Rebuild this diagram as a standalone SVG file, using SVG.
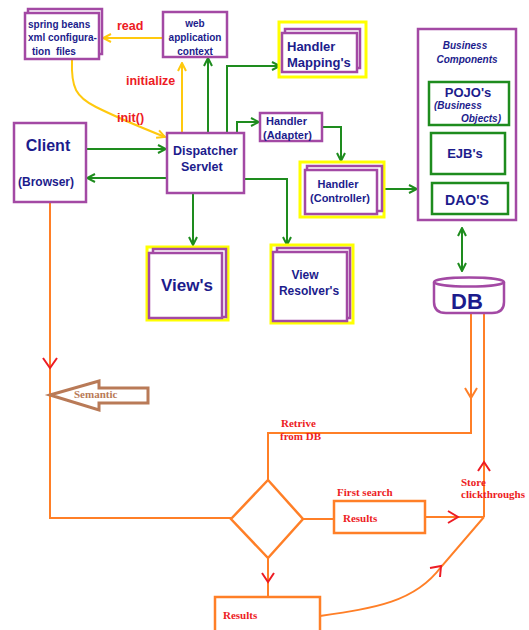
<svg xmlns="http://www.w3.org/2000/svg" width="529" height="630" viewBox="0 0 529 630">
<style>
.p{fill:#fff;stroke:#a349a4;stroke-width:2.5}
.pn{fill:none;stroke:#a349a4;stroke-width:2.5}
.y{fill:#fff;stroke:#ffff00;stroke-width:3}
.gb{fill:#fff;stroke:#1e8c1e;stroke-width:2.5}
.g{fill:none;stroke:#1e8c1e;stroke-width:2}
.yl{fill:none;stroke:#ffc90e;stroke-width:2}
.o{fill:none;stroke:#ff7f27;stroke-width:2}
.ob{fill:#fff;stroke:#ff7f27;stroke-width:2.5}
.r{fill:none;stroke:#ed1c24;stroke-width:2}
.t{font-family:"Liberation Sans",Arial,sans-serif;font-weight:bold;fill:#1c1c8c}
.rt{font-family:"Liberation Sans",Arial,sans-serif;font-weight:bold;fill:#ed1c24}
.st{font-family:"Liberation Serif","Times New Roman",serif;font-weight:bold;fill:#ed1c24;font-size:11px}
</style>
<defs>
<marker id="ag" viewBox="0 0 10 10" refX="9" refY="5" markerWidth="10" markerHeight="10" markerUnits="userSpaceOnUse" orient="auto-start-reverse"><path d="M1,1 L9,5 L1,9" fill="none" stroke="#1e8c1e" stroke-width="2"/></marker>
<marker id="ay" viewBox="0 0 10 10" refX="9" refY="5" markerWidth="10" markerHeight="10" markerUnits="userSpaceOnUse" orient="auto"><path d="M1,1 L9,5 L1,9" fill="none" stroke="#ffc90e" stroke-width="2"/></marker>
</defs>

<g id="connectors">
<path class="yl" d="M163,38 L103,38" marker-end="url(#ay)"/>
<path class="yl" d="M182,133 L182,63" marker-end="url(#ay)"/>
<path class="yl" d="M72,60 C71,88 76,97 96,107 S140,127 165,137" marker-end="url(#ay)"/>
<path class="g" d="M208,133 L208,58" marker-end="url(#ag)"/>
<path class="g" d="M227,133 L227,66 L280,66" marker-end="url(#ag)"/>
<path class="g" d="M237,133 L237,122 L259,122" marker-end="url(#ag)"/>
<path class="g" d="M322,127 L341,127 L341,161" marker-end="url(#ag)"/>
<path class="g" d="M86,149 L166,149" marker-end="url(#ag)"/>
<path class="g" d="M167,178 L87,178" marker-end="url(#ag)"/>
<path class="g" d="M193,193 L193,245" marker-end="url(#ag)"/>
<path class="g" d="M244,179 L287,179 L287,245" marker-end="url(#ag)"/>
<path class="g" d="M384,189 L417,189" marker-end="url(#ag)"/>
<path class="g" d="M462,228 L462,271" marker-start="url(#ag)" marker-end="url(#ag)"/>
<path class="o" d="M50,202 L50,518 L231,518"/>
<path class="o" d="M471,313 L471,433 L268,433 L268,480"/>
<path class="o" d="M484,313 L484,517"/>
<path class="o" d="M303,519 L334,519"/>
<path class="o" d="M425,517 L484,517"/>
<path class="o" d="M268,558 L268,597"/>
<path class="o" d="M320,616 C375,608 415,602 441,567 L484,517"/>
<path class="o" d="M465,388 L471,398 L477,388"/>
<path class="r" d="M43,358 L50,368 L57,358"/>
<path class="r" d="M478,471 L484,462 L490,471"/>
<path class="r" d="M448,511 L458,517 L448,523"/>
<path class="r" d="M262,573 L268,582 L274,573"/>
<path class="r" d="M430,568 L441,566 L440,577"/>
</g>

<g id="spring-beans">
<rect class="p" x="28" y="9" width="74" height="45"/>
<rect class="p" x="25" y="13" width="74" height="46"/>
<text class="t" font-size="10" x="28" y="28">spring beans</text>
<text class="t" font-size="10" x="28" y="41">xml configura-</text>
<text class="t" font-size="10" x="32" y="55" xml:space="preserve">tion  files</text>
</g>
<text class="rt" font-size="12.5" x="117" y="30">read</text>
<text class="rt" font-size="12.5" x="126" y="85">initialize</text>
<text class="rt" font-size="12.5" x="117" y="122">init()</text>

<g id="web-app-context">
<rect class="p" x="163" y="12" width="64" height="45"/>
<text class="t" font-size="10" x="195" y="27" text-anchor="middle">web</text>
<text class="t" font-size="10" x="195" y="41" text-anchor="middle">application</text>
<text class="t" font-size="10" x="195" y="55" text-anchor="middle">context</text>
</g>

<g id="handler-mapping">
<rect class="y" x="279" y="22" width="87" height="55"/>
<rect class="p" x="285" y="29" width="75" height="39"/>
<rect class="p" x="282" y="33" width="75" height="39"/>
<text class="t" font-size="13" x="287" y="51">Handler</text>
<text class="t" font-size="13" x="287" y="67">Mapping's</text>
</g>

<g id="client">
<rect class="p" x="14" y="123" width="72" height="79"/>
<text class="t" font-size="16" x="48" y="151" text-anchor="middle">Client</text>
<text class="t" font-size="12" x="46" y="186" text-anchor="middle">(Browser)</text>
</g>

<g id="dispatcher-servlet">
<rect class="p" x="167" y="133" width="77" height="60"/>
<text class="t" font-size="12.5" x="173" y="155">Dispatcher</text>
<text class="t" font-size="12.5" x="181" y="171">Servlet</text>
</g>

<g id="handler-adapter">
<rect class="p" x="260" y="113" width="62" height="28"/>
<text class="t" font-size="11" x="266" y="125">Handler</text>
<text class="t" font-size="11" x="263" y="139">(Adapter)</text>
</g>

<g id="handler-controller">
<rect class="y" x="300" y="162" width="84" height="55"/>
<rect class="p" x="307" y="166" width="75" height="45"/>
<rect class="p" x="305" y="170" width="72" height="44"/>
<text class="t" font-size="11" x="338" y="188" text-anchor="middle">Handler</text>
<text class="t" font-size="11" x="340" y="202" text-anchor="middle">(Controller)</text>
</g>

<g id="business-components">
<rect class="p" x="418" y="29" width="98" height="191"/>
<text class="t" font-size="10" font-style="italic" x="465" y="49" text-anchor="middle">Business</text>
<text class="t" font-size="10" font-style="italic" x="467" y="63" text-anchor="middle">Components</text>
<rect class="gb" x="429" y="82" width="80" height="43"/>
<text class="t" font-size="13" x="468" y="97" text-anchor="middle">POJO's</text>
<text class="t" font-size="10" font-style="italic" x="434" y="109">(Business</text>
<text class="t" font-size="10" font-style="italic" x="501" y="122" text-anchor="end">Objects)</text>
<rect class="gb" x="431" y="133" width="74" height="41"/>
<text class="t" font-size="13" x="465" y="158" text-anchor="middle">EJB's</text>
<rect class="gb" x="432" y="183" width="76" height="31"/>
<text class="t" font-size="14" x="467" y="205" text-anchor="middle">DAO'S</text>
</g>

<g id="views">
<rect class="y" x="147" y="247" width="81" height="73"/>
<rect class="p" x="153" y="249" width="73" height="68"/>
<rect class="p" x="149" y="253" width="73" height="65"/>
<text class="t" font-size="17" x="187" y="291" text-anchor="middle">View's</text>
</g>

<g id="view-resolvers">
<rect class="y" x="271" y="245" width="82" height="78"/>
<rect class="p" x="277" y="248" width="73" height="70"/>
<rect class="p" x="273" y="252" width="74" height="69"/>
<text class="t" font-size="12" x="305" y="279" text-anchor="middle">View</text>
<text class="t" font-size="12" x="309" y="295" text-anchor="middle">Resolver's</text>
</g>

<g id="db">
<path class="p" d="M434,282 L434,302 Q434,313 446,313 L492,313 Q504,313 504,302 L504,282"/>
<ellipse class="p" cx="469" cy="282" rx="35" ry="4.5"/>
<text class="t" font-size="22" x="467" y="309" text-anchor="middle">DB</text>
</g>

<g id="semantic">
<path d="M50,395 L99,381 L99,388 L148,388 L148,403 L99,403 L99,410 Z" fill="#fff" stroke="#b97a57" stroke-width="3" stroke-linejoin="miter"/>
<text x="74" y="398" font-family="Liberation Serif,'Times New Roman',serif" font-weight="bold" font-size="11" fill="#b97a57">Semantic</text>
</g>

<text class="st" x="281" y="427">Retrive</text>
<text class="st" x="280" y="440">from DB</text>

<g id="decision">
<path class="ob" d="M268,480 L303,519 L268,558 L231,519 Z"/>
</g>

<text class="st" x="337" y="496">First search</text>
<g id="results-first">
<rect class="ob" x="334" y="501" width="91" height="32"/>
<text class="st" x="343" y="522">Results</text>
</g>

<text class="st" x="461" y="486">Store</text>
<text class="st" x="461" y="498">clickthroughs</text>

<g id="results-second">
<rect class="ob" x="215" y="597" width="105" height="40"/>
<text class="st" x="223" y="619">Results</text>
</g>
</svg>
